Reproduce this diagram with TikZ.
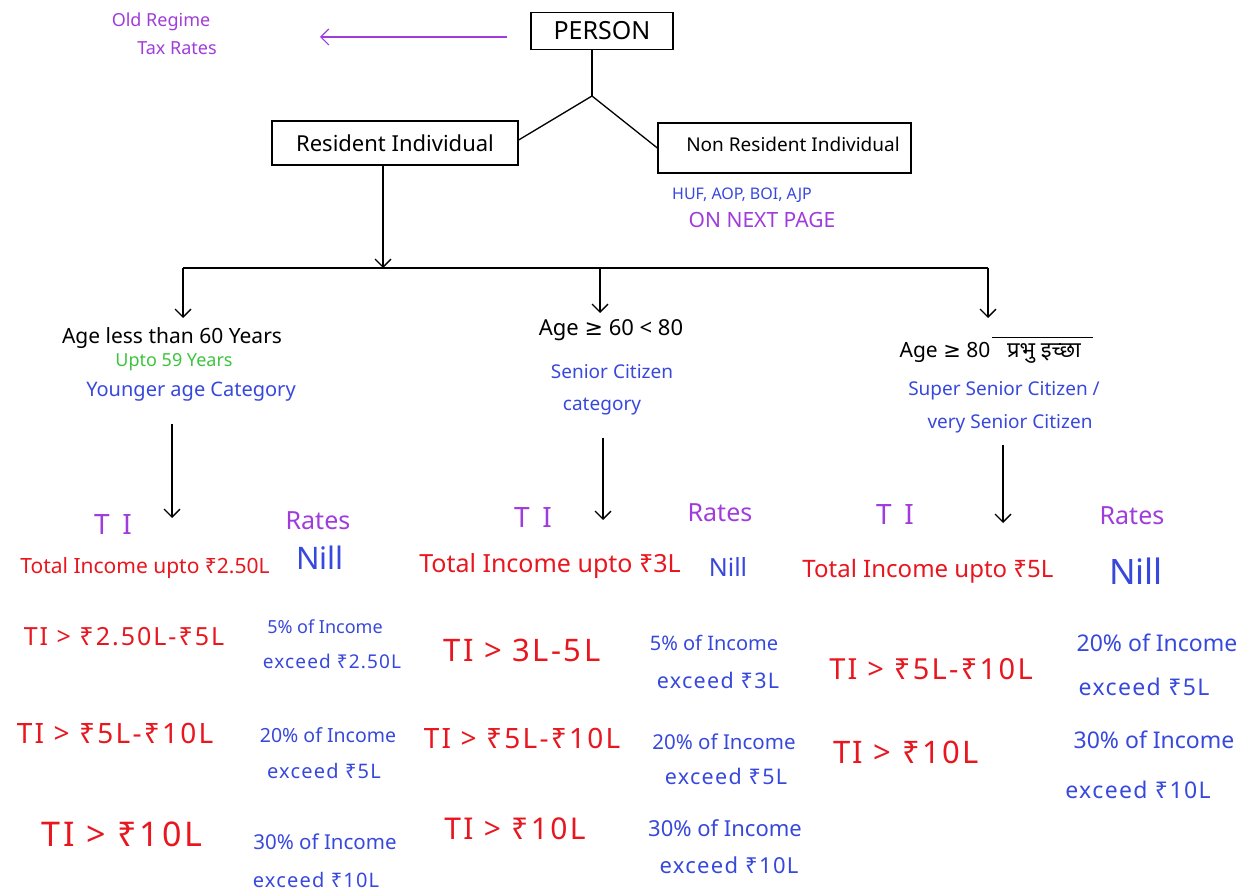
\documentclass[tikz,border=0pt]{standalone}
\usepackage{fontspec}
\setmainfont{Noto Sans}
\newfontfamily\deva[Script=Devanagari]{Noto Sans}
\newfontfamily\symf{DejaVu Sans}
\usetikzlibrary{arrows.meta}
\definecolor{inkred}{RGB}{232,22,30}
\definecolor{inkblue}{RGB}{55,72,220}
\definecolor{inkpurple}{RGB}{160,60,220}
\definecolor{inkgreen}{RGB}{60,196,60}
\newcommand{\atleast}{{\symf ≥}}
\tikzset{
  fs/.style={font=\fontsize{#1}{#1}\selectfont},
  box/.style={draw, line width=1.3pt, inner sep=0pt},
  wire/.style={line width=1.3pt},
  arr/.style={line width=1.3pt, -{Straight Barb[length=8pt,width=16pt]}},
  hdr/.style={text=black, fs=#1, inner sep=0pt},
  note/.style={text=inkblue, fs=#1, inner sep=0pt},
  colhead/.style={text=inkpurple, fs=25, inner sep=0pt},
  tihead/.style={text=inkpurple, inner sep=0pt,
    font=\fontsize{28}{28}\selectfont\addfontfeature{LetterSpace=45}},
  tirow/.style={text=inkred, inner sep=0pt,
    font=\fontsize{#1}{#1}\selectfont\addfontfeature{LetterSpace=8}},
  totrow/.style={text=inkred, fs=#1, inner sep=0pt},
  raterow/.style={text=inkblue, fs=#1, inner sep=0pt},
  excrow/.style={text=inkblue, inner sep=0pt,
    font=\fontsize{#1}{#1}\selectfont\addfontfeature{LetterSpace=6}},
  nilltext/.style={text=inkblue, fs=#1, inner sep=0pt},
}
\begin{document}
\begin{tikzpicture}[x=1pt,y=-1pt]
\useasboundingbox (0,0) rectangle (1243,893);

% --- top of the tree ---
\node[text=inkpurple, fs=18, inner sep=0pt] (old1) at (161,22) {Old Regime};
\node[text=inkpurple, fs=18, inner sep=0pt] (old2) at (177,48) {Tax Rates};
\node[box, minimum width=142pt, minimum height=37pt, fs=25] (person) at (602,31) {PERSON};
\coordinate (oldtip) at (320,37);
\draw[arr, inkpurple, line width=1.2pt] ([xshift=-23pt]person.west |- oldtip) -- (oldtip);

\coordinate (apex) at (592,96);
\node[box, minimum width=246pt, minimum height=44pt, fs=22] (res) at (395,143) {Resident Individual};
\node[box, minimum width=253pt, minimum height=50pt] (nonres) at (784.5,148) {};
\node[fs=19, inner sep=0pt] (nonrestxt) at (793,144) {Non Resident Individual};
\draw[wire] (person.south -| apex) -- (apex);
\draw[wire] (res.east |- 0,140) -- (apex) -- (nonres.west);

\node[text=inkblue, fs=16, inner sep=0pt] (others) at (742,195) {HUF, AOP, BOI, AJP};
\node[text=inkpurple, fs=21, inner sep=0pt] (nextpg) at (762,220) {ON NEXT PAGE};

% --- split into the age categories ---
\coordinate (bus) at (383,268);
\coordinate (busL) at (183,268);
\coordinate (busM) at (600,268);
\coordinate (busR) at (988,268);
\coordinate (tipL) at (183,318);
\coordinate (tipM) at (600,313);
\coordinate (tipR) at (988,318);
\draw[arr] (res.south -| bus) -- (bus);
\draw[wire] (busL) -- (busR);
\draw[arr] (busL) -- (tipL);
\draw[arr] (busM) -- (tipM);
\draw[arr] (busR) -- (tipR);

\node[hdr=21] (ageL) at (172,338) {Age less than 60 Years};
\node[text=inkgreen, fs=18, inner sep=0pt] (uptoL) at (174,362) {Upto 59 Years};
\node[note=20] (catL) at (191,392) {Younger age Category};

\node[hdr=22] (ageM) at (611,330) {Age \atleast\ 60 < 80};
\node[note=19] (catM1) at (612,372) {Senior Citizen};
\node[note=19] (catM2) at (602,407) {category};

\node[hdr=21] (ageR) at (945,352) {Age \atleast\ 80};
\node[fs=22, inner sep=0pt] (prabhu) at (1044,353) {\deva प्रभु इच्छा};
\coordinate (ovA) at (992,338);
\coordinate (ovB) at (1093,338);
\draw[line width=1pt] (ovA) -- (ovB);
\node[note=19] (catR1) at (1004,391) {Super Senior Citizen /};
\node[note=19] (catR2) at (1010,424) {very Senior Citizen};

% --- slab tables ---
\node[tihead] (tiL) at (113,525) {TI};
\node[colhead] (rtL) at (318,521) {Rates};
\node[tihead] (tiM) at (533,518) {TI};
\node[colhead] (rtM) at (720,513) {Rates};
\node[tihead] (tiR) at (895,515) {TI};
\node[colhead] (rtR) at (1132,516) {Rates};

\coordinate (dropL) at (172,518);
\coordinate (dropM) at (603,520);
\coordinate (dropR) at (1003,523);
\draw[arr] ([yshift=-22pt]catL.south -| dropL) -- (dropL);
\draw[arr] ([yshift=-22pt]catM2.south -| dropM) -- (dropM);
\draw[arr] ([yshift=-12pt]catR2.south -| dropR) -- (dropR);

% younger age category
\node[totrow=21] (l1) at (145,568) {Total Income upto ₹2.50L};
\node[nilltext=31] (l1r) at (320,558) {Nill};
\node[tirow=25] (l2) at (124,637) {TI > ₹2.50L-₹5L};
\node[raterow=18] (l2a) at (325,627) {5\% of Income};
\node[excrow=19] (l2b) at (332,661) {exceed ₹2.50L};
\node[tirow=28] (l3) at (115,733) {TI > ₹5L-₹10L};
\node[raterow=19.5] (l3a) at (328,735) {20\% of Income};
\node[excrow=20] (l3b) at (324,771) {exceed ₹5L};
\node[tirow=34] (l4) at (122,834) {TI > ₹10L};
\node[raterow=20.5] (l4a) at (325,842) {30\% of Income};
\node[excrow=20] (l4b) at (316,880) {exceed ₹10L};

% senior citizen category
\node[totrow=25] (m1) at (550,566) {Total Income upto ₹3L};
\node[nilltext=25] (m1r) at (728,567) {Nill};
\node[tirow=31] (m2) at (522,650) {TI > 3L-5L};
\node[raterow=20] (m2a) at (714,643) {5\% of Income};
\node[excrow=21.5] (m2b) at (718,680) {exceed ₹3L};
\node[tirow=28] (m3) at (522,738) {TI > ₹5L-₹10L};
\node[raterow=20.5] (m3a) at (724,742) {20\% of Income};
\node[excrow=21.5] (m3b) at (726,776) {exceed ₹5L};
\node[tirow=30] (m4) at (515,829) {TI > ₹10L};
\node[raterow=22] (m4a) at (725,828) {30\% of Income};
\node[excrow=22] (m4b) at (729,865) {exceed ₹10L};

% super senior citizen category
\node[totrow=24] (r1) at (928,571) {Total Income upto ₹5L};
\node[nilltext=35] (r1r) at (1136,571) {Nill};
\node[tirow=29] (r2) at (931,669) {TI > ₹5L-₹10L};
\node[raterow=23] (r2a) at (1157,643) {20\% of Income};
\node[excrow=23] (r2b) at (1144,687) {exceed ₹5L};
\node[tirow=31] (r3) at (906,752) {TI > ₹10L};
\node[raterow=23] (r3a) at (1154,740) {30\% of Income};
\node[excrow=23] (r3b) at (1138,790) {exceed ₹10L};
\end{tikzpicture}
\end{document}
